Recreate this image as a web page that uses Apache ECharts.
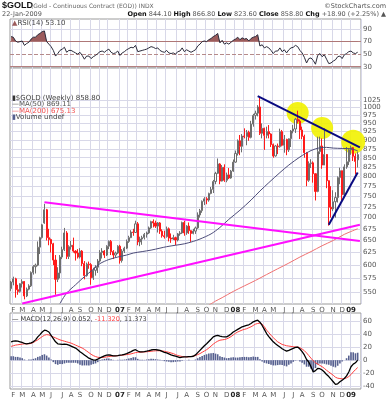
<!DOCTYPE html>
<html><head><meta charset="utf-8">
<script src="https://cdn.jsdelivr.net/npm/echarts@6/dist/echarts.min.js"></script>
<style>html,body{margin:0;padding:0;background:#fff}#c{width:388px;height:400px}</style>
</head><body><div id="c"></div>
<script>
// ---- weekly OHLC (week ending Friday, 27-Jan-2006 ... 23-Jan-2009) ----
const openP=[556,568,574,554,551,565,569,543,555,561,
586,597,600,636,656,688,718,656,652,643,
610,573,585,616,631,666,617,637,640,628,
624,616,628,603,580,602,601,576,590,596,
608,625,628,620,638,648,627,620,624,638,
609,628,634,648,656,668,667,686,647,653,
656,663,666,677,691,688,681,688,670,660,
658,675,655,653,656,651,664,666,689,666,
681,671,665,670,677,706,716,738,744,741,
757,767,787,808,833,788,824,790,804,796,
814,838,862,898,882,912,910,923,908,948,
975,982,1002,920,935,914,925,918,887,855,
883,881,925,885,902,872,904,927,933,963,
957,930,911,864,790,834,836,807,762,867,
883,830,859,789,724,720,737,747,797,815,
754,825,839,872,878,854,844.1];
const highP=[570,578,576,563,566,573,570,558,564,588,
600,603,648,658,686,732,720,675,654,645,
620,596,620,637,677,670,640,649,656,630,
632,634,630,608,605,607,604,595,600,612,
630,634,630,640,650,651,630,627,640,641,
632,637,652,660,672,675,693,690,658,660,
666,669,680,693,696,693,690,690,674,671,
680,678,665,662,658,666,670,691,693,683,
689,672,675,680,712,720,740,748,748,759,
773,791,812,848,835,830,832,810,822,817,
845,870,902,915,918,935,930,928,958,980,
990,1008,1034,950,937,940,945,920,890,886,
890,934,930,915,904,905,930,945,967,990,
962,940,916,866,840,846,840,808,910,910,
905,935,860,790,775,765,760,800,823,815,
832,880,876,884,880,862,866.8];
const lowP=[552,562,540,545,549,558,537,541,553,559,
582,584,598,622,654,686,650,640,625,600,
545,568,575,612,628,612,612,631,625,609,
613,613,598,573,578,593,563,572,580,585,
605,613,614,618,632,620,612,616,622,603,
605,624,632,645,655,660,666,640,638,641,
652,656,664,675,678,677,667,664,656,654,
656,648,645,651,640,648,660,664,660,662,
664,647,663,664,675,700,711,729,731,737,
755,758,780,806,780,787,786,785,793,794,
812,836,856,857,865,905,885,898,905,940,
962,972,915,905,872,905,905,880,850,853,
860,878,882,864,857,866,880,920,921,950,
903,903,850,775,786,822,784,740,760,860,
820,830,770,682,700,715,700,735,780,740,
750,820,830,858,841,805,823.6];
const closeP=[568,574,554,551,565,569,543,555,561,586,
597,600,636,656,684,718,656,652,643,610,
573,585,616,631,666,617,637,640,628,624,
616,628,603,580,602,601,576,590,596,608,
625,628,620,638,648,627,620,624,638,609,
628,634,648,656,668,667,686,647,653,656,
663,666,677,691,688,681,688,670,660,658,
675,655,653,656,651,664,666,689,666,681,
671,665,670,677,706,716,738,744,741,757,
767,787,808,833,788,824,790,804,796,814,
838,862,898,882,912,910,923,908,948,975,
982,1002,920,935,914,925,918,887,855,883,
881,925,885,902,872,904,927,933,963,957,
930,911,864,790,834,836,807,762,867,883,
830,859,789,724,720,737,747,797,815,754,
825,839,872,878,854,840,858.8];
// moving averages: [week index, value]
const ma50=[[22,530],[25,548],[29,563],[33,578],[37,592],[40,603],[44,611],[48,616],[52,620],[55,624],[59,627],[63,630],[67,634],[70,637],[74,640],[78,643],[82,648],[85,653],[90,664],[94,678],[98,696],[103,717],[108,741],[112,763],[116,784],[121,810],[125,830],[130,852],[135,870],[139,878],[142,879],[145,877],[149,876],[153,875],[156,869.11]];
const ma200=[[89,527],[92,534],[95,540],[100,551],[105,561],[110,571],[115,582],[120,593],[125,604],[130,616],[135,627],[140,639],[145,650],[150,663],[156,675.13]];
// hand-drawn annotations: [week index, price]
const trendMagentaDown=[[15,736],[157,649]];
const trendMagentaUp=[[5,530],[157,684]];
const trendNavyDown=[[111,1038],[157,879]];
const trendNavyUp=[[143,684],[156,810]];
const circles=[[129,983],[140,936],[154,895]];
// RSI(14)
const rsi=[78,77,71,69,70,71,64,67,69,74,
77,77,81,83,86,87,70,66,62,56,
47,51,56,58,61,53,56,56,54,52,
50,53,48,42,47,47,43,46,48,51,
54,55,53,56,58,53,51,52,55,48,
52,54,57,59,61,60,64,54,55,56,
57,58,60,62,61,59,60,56,54,53,
56,52,51,52,50,54,55,60,54,57,
55,53,55,57,63,66,70,71,70,73,
75,78,80,83,68,72,66,68,66,69,
72,74,77,73,76,74,75,71,75,77,
78,81,63,65,60,62,60,56,51,55,
55,60,54,57,52,57,60,61,64,62,
56,52,45,36,43,44,40,34,48,51,
46,49,42,35,36,39,41,46,47,43,
49,51,54,55,52,51,53.1];
// MACD(12,26,9)
const macd=[28,29,29.5,29,28,27,25.5,25,25.5,26.5,
28,31,35.5,39,43,45.8,45,43,38,33,
28,25,24.5,24,24.5,24,23,21.5,20,18.5,
16,13,10.5,8,5.5,3,1.5,0.5,0,1.5,
3.5,5,6.5,7.6,8,7.5,6.6,6.5,7,7.6,
8,9,10,11.5,13,15,16,14,12.7,12.8,
13,13.7,14.5,15.5,16,16,15.5,15,13.5,12,
11,9.5,8,7,6,5,4,4.5,5,5,
5.5,5.5,6,8,11.5,15,18.5,22,25,28.5,
32,35.6,37,38,36.6,36,35.5,35.6,37.5,40,
43,45,47,49,51,52,53,54,56,58.5,
60,61,58,53,47,40.7,36,32,28,25,
22.5,20,17.5,15.5,13.7,15,16.5,18,19.5,20,
17,13,8,1,-3,-10,-18,-16,-12.7,-13,
-15,-18,-22,-25,-29,-33,-37,-36,-33,-30.5,
-28,-24,-18,-10,-6,-4,0.052];
const signal=[21,22,23,23.5,24,24.5,25,25,25,25.5,
27,29,31,33.5,36,38,39,38.5,37,35.5,
34,32.5,31,30,29,28,27,26,24.5,23,
21.5,20,18.5,16.5,14,11.5,9,7,5.5,4.5,
4,4,4.5,5,5.5,6,6.3,6.5,6.8,7.2,
7.6,8,8.5,9,9.6,10.5,11.5,12,12.2,12.4,
12.6,12.8,13.2,13.6,14,14.3,14.4,14.3,14,13.6,
12.8,12,11,10,8.5,7.2,6.3,5.6,5.2,5,
5.2,5.5,6,7,8.5,10,12,14,16,18.5,
21.5,24.5,27,29,30.5,31,31.5,32.5,34,36,
38.5,41,43,44.5,46,47,48,49.5,51,53,
55,56,56.5,55,51,45.8,42,38,34.5,31,
28,26,24,23,22,21.5,21,20.5,20.2,20,
19,17,14.5,11,7,3,-1,-4,-6,-8,
-10,-12.5,-15.5,-18,-20.5,-23,-26,-27.5,-28,-28.5,
-28,-27,-25,-22,-18,-14.5,-11.32];
const hist=[6,6,5,5,4,3,1,0,1,1,
2,3,5,6,8,9,7,4,1,-3,
-6,-7,-6,-6,-5,-4,-4,-4,-4,-4,
-5,-7,-8,-8,-8,-8,-7,-6,-5,-3,
-1,1,2,2.5,2.5,1.5,0.5,0,0.5,0.5,
0.5,1,1.5,2.5,3.5,4.5,4.5,2,0.5,0.5,
0.5,1,1.5,2,2,1.5,1,0.5,-0.5,-1.5,
-2,-2.5,-3,-3,-2.5,-2,-2,-1,0,0,
0.5,0,0,1,3,5,6.5,8,9,10,
10.5,11,10,9,6,5,4,3,3.5,4,
4.5,4,4,4.5,5,5,5,4.5,5,5.5,
5,5,1.5,-2,-4,-5,-6,-7,-8,-8,
-7.5,-7,-7.5,-8.5,-9.5,-7,-5,-2.5,-0.5,0,
-2,-4,-6.5,-10,-10,-13,-17,-12,-6.5,-5,
-5,-5.5,-6.5,-7,-8.5,-10,-11,-8.5,-5,-2,
0,3,7,12,12,10.5,11.373];
// tick labels
const priceTicks=[550,575,600,625,650,675,700,725,750,775,800,825,850,875,900,925,950,975,1000,1025];
const rsiTicks=[90,70,50,30];
const macdTicks=[60,40,20,0,-20,-40];
const monthLetters=['J','F','M','A','M','J','J','A','S','O','N','D'];

// weekly category dates (one spare slot at the right edge)
const dates=[];
(function(){let t=Date.UTC(2006,0,27);for(let k=0;k<158;k++){dates.push(new Date(t).toISOString().slice(0,10));t+=7*864e5;}})();
function monthStart(idx){return idx>0 && dates[idx].slice(5,7)!==dates[idx-1].slice(5,7);}

const FF='"DejaVu Sans", sans-serif';
const GRIDC='#d8d8e8';
const chart=echarts.init(document.getElementById('c'),null,{renderer:'canvas'});

function xAx(gi,showLabel){
  return {type:'category',gridIndex:gi,data:dates,boundaryGap:true,
    axisLine:{show:false},axisTick:{show:false},
    splitLine:{show:gi!==3,interval:(i)=>monthStart(i),lineStyle:{color:GRIDC,width:1}},
    axisLabel:{show:showLabel,interval:(i)=>monthStart(i),margin:3,fontSize:7,fontFamily:FF,color:'#555',
      formatter:(v)=>{const m=+v.slice(5,7);return m===1?'{b|'+v.slice(2,4)+'}':monthLetters[m-1];},
      rich:{b:{fontWeight:'bold',fontSize:7,fontFamily:FF,color:'#222'}}}};
}
function yAx(gi,extra){
  return Object.assign({gridIndex:gi,position:'right',axisLine:{show:false},axisTick:{show:false},
    axisLabel:{show:false},splitLine:{show:false}},extra);
}
function gridLines(values,special){
  return {silent:true,symbol:['none','none'],z:1,animation:false,
    lineStyle:{color:GRIDC,type:'solid',width:1},
    label:{show:true,position:'end',distance:2,formatter:(p)=>String(p.value),color:'#555',fontSize:7,fontFamily:FF},
    emphasis:{disabled:true},
    data:values.map(v=>Object.assign({yAxis:v},special&&special[v]?{lineStyle:special[v]}:{}))};
}
const ohlc=openP.map((o,i)=>[o,closeP[i],lowP[i],highP[i]]);

function txt(x,y,text,font,fill,extra){
  return {type:'text',x:x,y:y,z:100,zlevel:0,silent:true,
    style:Object.assign({text:text,font:font,fill:fill,verticalAlign:'middle'},extra||{})};
}

chart.setOption({
  animation:false,
  backgroundColor:'#fff',
  textStyle:{fontFamily:FF},
  grid:[
    {left:10,right:27,top:19,height:49,show:true,borderColor:'#9a9a9a',borderWidth:1,backgroundColor:'#fff'},
    {left:10,right:27,top:68,height:236,show:true,borderColor:'#9a9a9a',borderWidth:1,backgroundColor:'#fff'},
    {left:10,right:27,top:313,height:76,show:true,borderColor:'#9a9a9a',borderWidth:1,backgroundColor:'#fff'},
    {left:10,right:27,top:19,height:49*36/78,show:false}
  ],
  xAxis:[xAx(0,false),xAx(1,true),xAx(2,true),xAx(3,false)],
  yAxis:[
    yAx(0,{type:'value',min:28,max:106}),
    yAx(1,{type:'log',logBase:10,min:529,max:1137}),
    yAx(2,{type:'value',min:-44,max:72}),
    yAx(3,{type:'value',min:70,max:106})
  ],
  series:[
    {type:'line',xAxisIndex:3,yAxisIndex:3,data:rsi,symbol:'none',z:1,clip:true,
      lineStyle:{width:0},areaStyle:{color:'#9c5c5c',opacity:1,origin:'start'},silent:true},
    {type:'line',xAxisIndex:0,yAxisIndex:0,data:rsi,symbol:'none',z:3,silent:true,
      lineStyle:{color:'#2a2a3a',width:1},
      markLine:gridLines(rsiTicks,{70:{color:'#b58080'},30:{color:'#b58080'},50:{color:'#b58a8a',type:'dashed'}})},
    {type:'candlestick',xAxisIndex:1,yAxisIndex:1,data:ohlc,barWidth:1.6,z:3,silent:true,
      itemStyle:{color:'#ffffff',color0:'#ff1a1a',borderColor:'#6e6e6e',borderColor0:'#ff1a1a',borderWidth:1},
      markLine:gridLines(priceTicks)},
    {type:'scatter',xAxisIndex:1,yAxisIndex:1,data:circles,z:2,silent:true,
      symbolSize:(v,p)=>p.dataIndex===2?24:22,itemStyle:{color:'#f2f200',opacity:0.9}},
    {type:'line',xAxisIndex:1,yAxisIndex:1,data:ma50,symbol:'none',z:4,smooth:0.3,silent:true,
      lineStyle:{color:'#4c4c78',width:1}},
    {type:'line',xAxisIndex:1,yAxisIndex:1,data:ma200,symbol:'none',z:4,smooth:0.3,silent:true,
      lineStyle:{color:'#f07070',width:1}},
    {type:'line',xAxisIndex:1,yAxisIndex:1,data:trendMagentaDown,symbol:'none',z:5,silent:true,lineStyle:{color:'#ff10ff',width:2}},
    {type:'line',xAxisIndex:1,yAxisIndex:1,data:trendMagentaUp,symbol:'none',z:5,silent:true,lineStyle:{color:'#ff10ff',width:2}},
    {type:'line',xAxisIndex:1,yAxisIndex:1,data:trendNavyDown,symbol:'none',z:5,silent:true,lineStyle:{color:'#0a0a80',width:2}},
    {type:'line',xAxisIndex:1,yAxisIndex:1,data:trendNavyUp,symbol:'none',z:5,silent:true,lineStyle:{color:'#0a0a80',width:2}},
    {type:'bar',xAxisIndex:2,yAxisIndex:2,data:hist,barWidth:1.6,z:2,silent:true,
      itemStyle:{color:'#56608f'},
      markLine:gridLines(macdTicks)},
    {type:'line',xAxisIndex:2,yAxisIndex:2,data:signal,symbol:'none',z:3,silent:true,lineStyle:{color:'#ff4040',width:1}},
    {type:'line',xAxisIndex:2,yAxisIndex:2,data:macd,symbol:'none',z:4,silent:true,lineStyle:{color:'#000000',width:1.3}}
  ],
  graphic:{elements:[
    txt(2,6,'$GOLD','bold 9px "Liberation Sans", sans-serif','#111'),
    txt(31,6,'(Gold - Continuous Contract (EOD)) INDX','6px '+FF,'#666'),
    txt(386,6,'©StockCharts.com','6.5px '+FF,'#555',{align:'right'}),
    txt(2,14.5,'22-Jan-2009','6.5px '+FF,'#555'),
    txt(386,14.5,'{b|Open} 844.10 {b|High} 866.80 {b|Low} 823.60 {b|Close} 858.80 {b|Chg} +18.90 (+2.25%) ▲','6.5px '+FF,'#555',
      {align:'right',rich:{b:{fontWeight:'bold',fontSize:6.5,fontFamily:FF,fill:'#111'}}}),
    txt(12,23.5,'{t|▲}RSI(14) 53.10','7px '+FF,'#444',{rich:{t:{fill:'#9c5c5c',fontSize:7,fontFamily:FF}}}),
    txt(12,97.7,'{i|▮}$GOLD (Weekly) 858.80','7px '+FF,'#444',{rich:{i:{fill:'#333',fontSize:7,fontFamily:FF}}}),
    txt(12,104,'—MA(50) 869.11','7px '+FF,'#555'),
    txt(12,110.7,'—MA(200) 675.13','7px '+FF,'#f05050'),
    txt(12,117,'{i|▮}Volume undef','7px '+FF,'#444',{rich:{i:{fill:'#56608f',fontSize:7,fontFamily:FF}}}),
    txt(12,319.5,'— MACD(12,26,9) 0.052, {r|-11.320}, {n|11.373}','6.5px '+FF,'#333',
      {rich:{r:{fill:'#ff4040',fontSize:6.5,fontFamily:FF},n:{fill:'#444',fontSize:6.5,fontFamily:FF}}})
  ]}
});
</script></body></html>
